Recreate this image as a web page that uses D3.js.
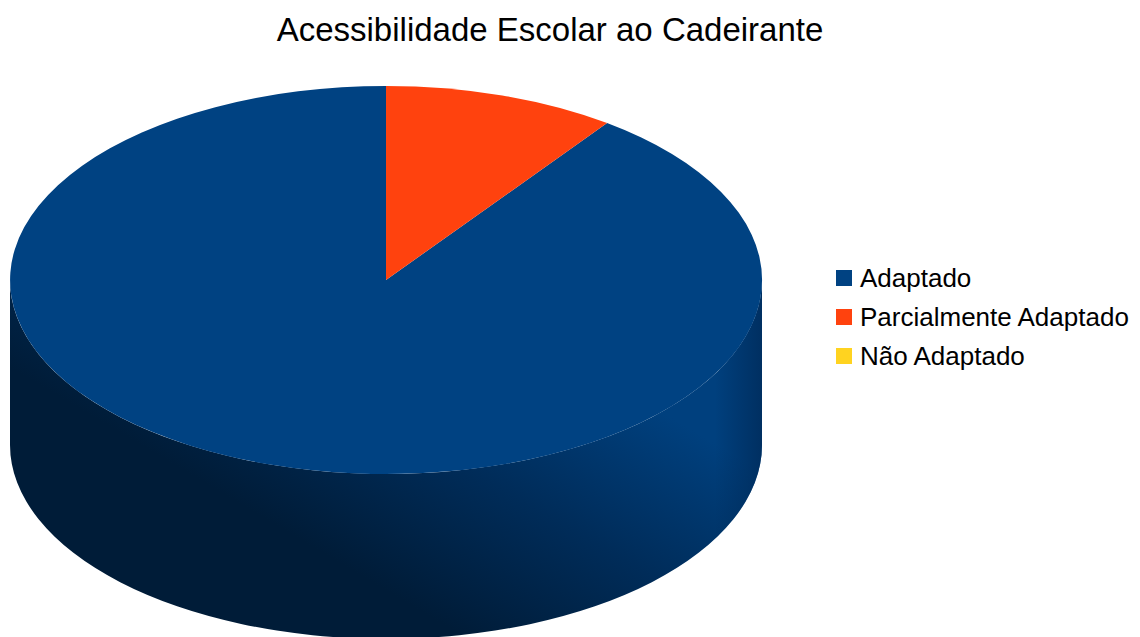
<!DOCTYPE html>
<html>
<head>
<meta charset="utf-8">
<title>Acessibilidade Escolar ao Cadeirante</title>
<script src="https://d3js.org/d3.v7.min.js"></script>
<style>
  html, body { margin: 0; padding: 0; background: #fff; }
  svg { display: block; }
  text { font-family: "Liberation Sans", Arial, sans-serif; fill: #000; }
</style>
</head>
<body>
<svg id="chart" width="1140" height="637"></svg>
<script>
const title = "Acessibilidade Escolar ao Cadeirante";
const categories = ["Adaptado", "Parcialmente Adaptado", "Não Adaptado"];
const values = [90, 10, 0];
const colors = ["#004282", "#ff420e", "#ffd320"];

const width = 1140, height = 637;
const cx = 386, cy = 280, rx = 376, ry = 194, depth = 165;

const svg = d3.select("#chart");

svg.append("text")
  .attr("x", 550).attr("y", 41)
  .attr("text-anchor", "middle")
  .attr("font-size", 33)
  .text(title);

const defs = svg.append("defs");

const sideGrad = defs.append("linearGradient")
  .attr("id", "side")
  .attr("gradientUnits", "userSpaceOnUse")
  .attr("x1", 200).attr("y1", 480)
  .attr("x2", 350).attr("y2", 227);
sideGrad.append("stop").attr("offset", 0).attr("stop-color", "#001c38");
sideGrad.append("stop").attr("offset", 0.5).attr("stop-color", "#002c59");
sideGrad.append("stop").attr("offset", 1).attr("stop-color", "#00407e");

const edgeGrad = defs.append("linearGradient")
  .attr("id", "edge")
  .attr("gradientUnits", "userSpaceOnUse")
  .attr("x1", 715).attr("y1", 0)
  .attr("x2", 762).attr("y2", 0);
edgeGrad.append("stop").attr("offset", 0).attr("stop-color", "#002a58").attr("stop-opacity", 0);
edgeGrad.append("stop").attr("offset", 1).attr("stop-color", "#002a58").attr("stop-opacity", 0.75);

// wall of the cylinder
const sidePath = `M${cx - rx},${cy} L${cx - rx},${cy + depth}
  A${rx},${ry} 0 0 0 ${cx + rx},${cy + depth} L${cx + rx},${cy}
  A${rx},${ry} 0 0 1 ${cx - rx},${cy} Z`;

svg.append("path").attr("d", sidePath).attr("fill", "url(#side)");
svg.append("path").attr("d", sidePath).attr("fill", "url(#edge)");

// top face, the small slice sits right of twelve o'clock
const total = d3.sum(values);
const start = 2 * Math.PI * values[1] / total;
const pie = d3.pie().sort(null).startAngle(start).endAngle(start + 2 * Math.PI);
const arc = d3.arc().innerRadius(0).outerRadius(1);

svg.append("g")
  .attr("transform", `translate(${cx},${cy}) scale(${rx},${ry})`)
  .selectAll("path")
  .data(pie(values))
  .enter().append("path")
  .attr("d", arc)
  .attr("fill", (d, i) => colors[i]);

// legend
const legendY = d3.scalePoint().domain(categories).range([278, 356]);

const legend = svg.append("g")
  .selectAll("g")
  .data(categories)
  .enter().append("g")
  .attr("transform", d => `translate(0,${legendY(d)})`);

legend.append("rect")
  .attr("x", 836).attr("y", -8)
  .attr("width", 16).attr("height", 16)
  .attr("fill", (d, i) => colors[i]);

legend.append("text")
  .attr("x", 860).attr("y", 9)
  .attr("font-size", 26)
  .text(d => d);
</script>
</body>
</html>
